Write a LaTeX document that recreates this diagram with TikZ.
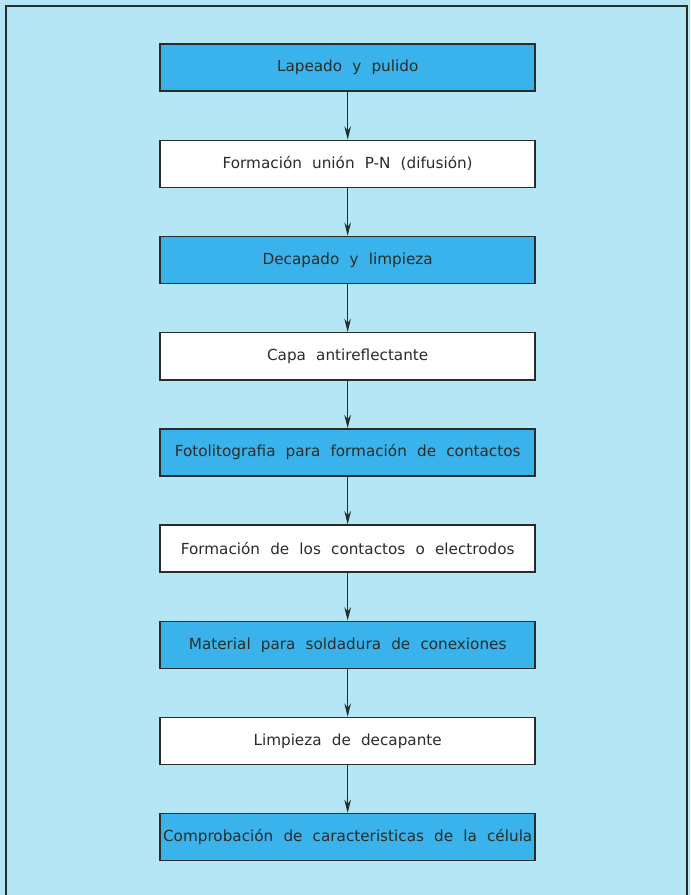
\documentclass[tikz,border=0pt]{standalone}
\usepackage{fontspec}
\setmainfont[WordSpace=2.1]{DejaVu Sans}
\usetikzlibrary{positioning,arrows.meta}

\definecolor{paper}{RGB}{180,230,245}
\definecolor{stepblue}{RGB}{58,178,235}
\definecolor{inkline}{RGB}{40,45,42}

\begin{document}
\begin{tikzpicture}[
            bluenode/.style={rectangle, draw=inkline, fill=stepblue, line width=1.3pt, minimum width=11.25cm, minimum height=1.41cm, inner xsep=0.5mm, font=\fontsize{13}{15}\selectfont, text=inkline},
            whitenode/.style={bluenode, fill=white},
            flow/.style={line width=0.8pt, draw=inkline, -{Stealth[length=4mm, width=2mm]}},
            node distance=1.43cm,
        ]
            %Frame
            \useasboundingbox (0,0) rectangle (20.7,-26.85);
            \fill[paper] (0,0) rectangle (20.7,-26.85);
            \draw[inkline, line width=0.9pt] (0.18,-26.85) -- (0.18,-0.18) -- (20.61,-0.18) -- (20.61,-26.85);

            %Nodes
            \node[bluenode](lapeado) at (10.43,-2.03) {Lapeado y pulido};
            \node[whitenode](union)[below=of lapeado] {Formación unión P-N (difusión)};
            \node[bluenode](decapado)[below=of union] {Decapado y limpieza};
            \node[whitenode](capa)[below=of decapado] {Capa antireflectante};
            \node[bluenode](foto)[below=of capa] {Fotolitografia para formación de contactos};
            \node[whitenode](contactos)[below=of foto] {Formación de los contactos o electrodos};
            \node[bluenode](material)[below=of contactos] {Material para soldadura de conexiones};
            \node[whitenode](limpieza)[below=of material] {Limpieza de decapante};
            \node[bluenode](celula)[below=of limpieza] {Comprobación de caracteristicas de la célula};

            %Lines
            \draw[flow](lapeado) -- (union);
            \draw[flow](union) -- (decapado);
            \draw[flow](decapado) -- (capa);
            \draw[flow](capa) -- (foto);
            \draw[flow](foto) -- (contactos);
            \draw[flow](contactos) -- (material);
            \draw[flow](material) -- (limpieza);
            \draw[flow](limpieza) -- (celula);
        \end{tikzpicture}
\end{document}
